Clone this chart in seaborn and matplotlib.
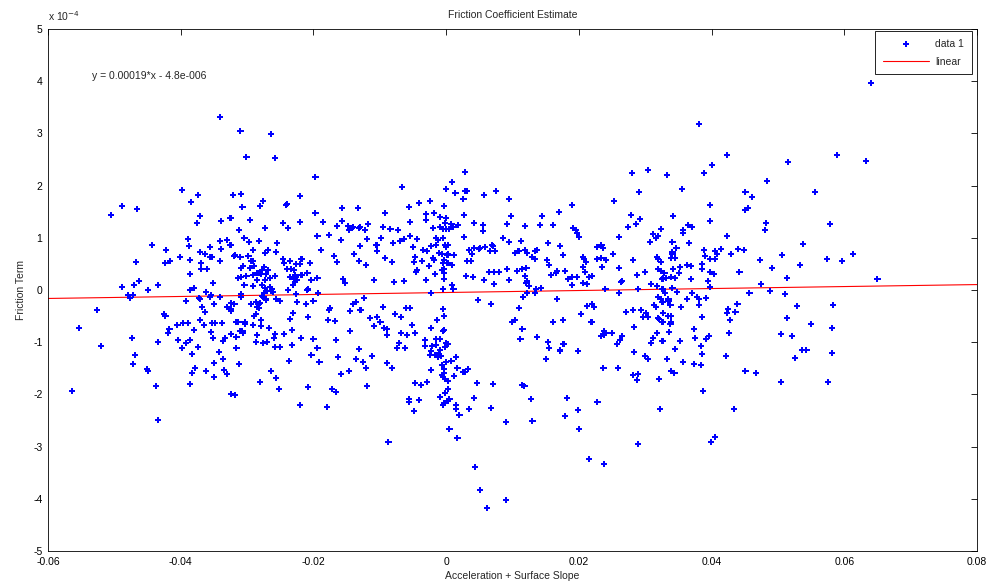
import numpy as np
import pandas as pd
import matplotlib
matplotlib.use("Agg")
import matplotlib.pyplot as plt
import seaborn as sns

# ---- data: x in units of 1e-3, friction term in units of 1e-4 ----
x_a = [-50.5,-48.8,-46.6,-39.8,-38.4,-37.4,-37.1,-37.5,-38.9,-44.3,
       -42.2,-38.7,-37.1,-36.3,-40.1,-41.6,-42.3,-38.6,-36.9,-46.7,
       -36.9,-36.0,-38.6,-48.8,-47.0,-46.3,-44.9,-43.4,-38.6,-38.0,
       -36.2,-47.9,-47.2,-47.6,-37.2,-39.2,-52.6,-36.8,-36.3,-42.5,
       -42.3,-37.1,-55.3,-40.5,-39.6,-38.9,-36.5,-41.7,-41.9,-38.0,
       -47.3,-43.4,-40.4,-39.2,-38.6,-52.0,-39.8,-37.4,-46.9,-38.3,
       -47.2,-45.1,-44.9,-37.8,-38.3,-36.2,-38.6,-43.7,-56.4,-43.4]
y_a = [1.44,1.61,1.55,1.92,1.69,1.82,1.42,1.28,0.98,0.86,
       0.77,0.84,0.73,0.69,0.63,0.56,0.52,0.57,0.52,0.54,
       0.40,0.40,0.31,0.06,0.10,0.17,0.00,0.10,0.00,0.04,
       -0.04,-0.10,-0.10,-0.15,-0.15,-0.21,-0.38,-0.33,-0.42,-0.46,
       -0.50,-0.57,-0.73,-0.67,-0.63,-0.63,-0.67,-0.75,-0.82,-0.77,
       -0.92,-1.00,-0.96,-1.02,-0.96,-1.07,-1.11,-1.09,-1.25,-1.23,
       -1.42,-1.51,-1.55,-1.49,-1.59,-1.55,-1.80,-1.84,-1.93,-2.49]

x_b = [-34.1,-31.0,-26.4,-30.1,-25.8,-19.7,-32.1,-30.9,-27.6,-28.0,
       -30.7,-22.0,-24.0,-24.1,-33.9,-32.5,-29.5,-19.7,-15.7,-13.3,
       -27.3,-31.2,-24.6,-23.8,-22.0,-18.5,-15.7,-16.4,-14.8,-14.2,
       -14.6,-13.1,-30.4,-33.0,-34.1,-29.7,-28.2,-19.4,-17.6,-15.8,
       -32.5,-25.5,-35.6,-33.9,-29.1,-26.8,-27.3,-25.6,-18.8,-13.0,
       -35.6,-35.3,-31.9,-31.8,-31.0,-29.8,-29.4,-29.1,-34.1,-24.6,
       -23.5,-24.4,-21.8,-22.0,-22.6,-20.5,-16.9,-13.9,-16.4,-13.1,
       -30.6,-30.9,-29.5,-28.9,-27.4,-27.7,-26.8,-28.2,-28.5,-27.9,
       -27.1,-29.1,-31.3,-30.9,-30.1,-26.5,-25.8,-27.3,-28.5,-24.0,
       -23.4,-22.9,-22.8,-21.8,-22.6,-23.5,-22.9,-22.5,-22.8,-20.9,
       -19.4,-20.3,-23.1,-20.8,-20.9,-15.5,-15.2,-35.1,-29.1,-30.4,
       -27.7,-26.5,-27.3,-26.2,-27.0,-26.4,-23.8,-34.1,-30.9,-30.9,
       -27.7,-27.4,-22.6,-19.3,-35.6]
y_b = [3.31,3.05,2.99,2.55,2.53,2.16,1.82,1.84,1.70,1.61,
       1.59,1.80,1.65,1.63,1.32,1.38,1.34,1.48,1.57,1.57,
       1.19,1.15,1.28,1.19,1.30,1.30,1.32,1.23,1.23,1.19,
       1.15,1.19,1.00,0.96,0.94,0.92,0.94,1.03,1.05,0.96,
       0.86,0.90,0.82,0.78,0.77,0.77,0.71,0.73,0.77,0.84,
       0.63,0.63,0.65,0.67,0.63,0.65,0.56,0.56,0.56,0.59,
       0.56,0.52,0.59,0.50,0.50,0.52,0.65,0.69,0.54,0.56,
       0.46,0.42,0.42,0.46,0.44,0.38,0.38,0.33,0.33,0.31,
       0.31,0.29,0.23,0.25,0.27,0.23,0.27,0.19,0.19,0.40,
       0.40,0.38,0.29,0.29,0.25,0.25,0.21,0.19,0.15,0.33,
       0.23,0.19,0.10,0.02,0.00,0.21,0.13,0.13,0.08,0.10,
       0.10,0.06,0.04,0.02,-0.02,-0.02,0.00,-0.13,-0.08,-0.13,
       -0.11,-0.06,-0.08,-0.06,-0.13]

x_c = [-35.4,-26.1,-37.1,-27.6,-27.1,-27.1,-25.6,-25.0,-35.0,-33.0,
       -32.4,-31.9,-32.4,-32.4,-29.4,-28.6,-28.2,-28.0,-28.2,-28.5,
       -28.6,-28.9,-22.5,-21.1,-20.0,-23.1,-20.8,-17.5,-17.6,-14.0,
       -13.6,-14.5,-13.0,-35.3,-34.8,-33.8,-31.6,-31.3,-30.3,-30.3,
       -29.1,-27.9,-27.9,-26.7,-23.5,-17.8,-16.7,-35.4,-31.0,-30.7,
       -30.6,-32.4,-31.6,-28.5,-25.8,-25.9,-24.4,-23.2,-21.9,-35.1,
       -33.3,-33.6,-28.6,-27.6,-27.0,-20.0,-16.6,-14.5,-31.6,-25.8,
       -25.0,-23.2,-19.4,-13.1,-34.2,-20.3,-16.3,-13.6,-33.6,-35.0,
       -31.2,-23.7,-19.1,-33.5,-33.0,-35.0,-26.4,-25.6,-28.0,-14.6,
       -15.8,-25.2,-20.8,-17.2,-16.6,-32.4,-31.8,-22.0,-17.9]
y_c = [-0.10,-0.04,-0.17,-0.13,-0.17,-0.19,-0.17,-0.21,-0.27,-0.33,
       -0.25,-0.27,-0.36,-0.40,-0.27,-0.23,-0.27,-0.25,-0.34,-0.33,
       -0.46,-0.50,-0.23,-0.27,-0.21,-0.44,-0.52,-0.34,-0.38,-0.27,
       -0.23,-0.40,-0.38,-0.63,-0.63,-0.63,-0.61,-0.61,-0.61,-0.65,
       -0.67,-0.57,-0.69,-0.73,-0.56,-0.57,-0.59,-0.80,-0.79,-0.79,
       -0.82,-0.84,-0.90,-0.86,-0.84,-0.92,-0.84,-0.77,-0.92,-0.92,
       -0.92,-0.98,-1.00,-1.02,-1.00,-0.94,-0.96,-0.79,-1.11,-1.09,
       -1.09,-1.05,-1.11,-1.13,-1.19,-1.25,-1.28,-1.32,-1.32,-1.40,
       -1.42,-1.36,-1.38,-1.53,-1.61,-1.67,-1.55,-1.69,-1.76,-1.55,
       -1.61,-1.90,-1.86,-1.90,-1.95,-1.99,-2.01,-2.20,-2.24]

x_d = [2.9,0.9,0.0,1.4,2.9,3.2,7.5,5.7,-6.6,2.6,
       9.5,-9.2,-5.6,-4.1,-2.4,-0.3,-3.0,-3.0,-1.8,-0.9,
       0.0,-0.2,2.7,9.8,-5.4,-11.8,-13.0,-14.0,-12.2,-9.5,
       -8.4,-7.2,-2.0,-0.9,-0.5,0.0,0.5,1.1,0.8,1.8,
       4.2,5.6,5.6,9.2,-11.9,-9.8,-8.0,-6.9,-6.3,-5.4,
       -4.4,-5.0,-1.5,-1.2,-0.5,-2.3,-1.5,-0.2,0.3,0.0,
       2.7,3.5,4.2,5.1,5.0,5.9,6.9,7.1,8.6,9.5,
       -10.5,-10.4,-9.2,-12.1,-8.1,-4.7,-4.8,-3.6,-3.5,-2.9,
       -2.0,-1.8,-2.6,-1.1,-0.6,0.2,0.3,-0.3,-0.5,0.2,
       -0.3,-0.3,1.2,0.9,-0.6,3.9,3.8,3.2,6.6,7.4,
       -4.4,-4.5,-1.7,3.0,4.1,6.5,7.2,8.0,9.2,-10.9,
       -7.8,-6.3,-3.0,-0.3,-0.5,0.9,1.1,5.7,7.2,9.5,
       -2.3,-12.4,4.8]
y_d = [2.26,2.07,1.94,1.86,1.90,1.90,1.90,1.82,1.97,1.74,
       1.74,1.48,1.59,1.67,1.70,1.61,1.46,1.34,1.48,1.40,
       1.38,1.28,1.44,1.42,1.30,1.26,1.21,1.21,1.15,1.21,
       1.17,1.15,1.19,1.21,1.17,1.17,1.17,1.21,1.26,1.25,
       1.28,1.25,1.13,1.26,0.98,1.00,0.90,0.94,0.98,1.03,
       0.98,0.82,1.00,0.96,1.00,0.84,0.86,0.86,0.86,0.82,
       1.02,0.77,0.80,0.80,0.79,0.82,0.86,0.84,1.00,0.92,
       0.86,0.75,0.61,0.48,0.54,0.63,0.54,0.56,0.77,0.75,
       0.61,0.57,0.46,0.71,0.69,0.67,0.69,0.57,0.52,0.52,
       0.40,0.33,0.67,0.48,0.38,0.69,0.56,0.56,0.75,0.75,
       0.38,0.34,0.31,0.27,0.25,0.34,0.34,0.34,0.40,0.19,
       0.15,0.17,0.19,0.21,0.02,0.10,0.02,0.19,0.11,0.19,
       -0.06,-0.15,-0.19]

x_e = [-12.8,-9.5,-6.0,-5.4,-0.5,-0.3,-11.5,-10.4,-9.9,-7.7,
       -6.8,-1.4,9.9,-10.9,-9.3,-8.9,-8.9,-5.1,-2.3,-0.3,
       -0.5,-6.8,-5.9,-4.7,-1.5,-0.9,-3.2,-3.2,0.0,0.3,
       -0.2,-2.1,-1.5,-0.9,-7.1,-7.4,-6.2,-2.3,-2.4,-1.7,
       -1.4,-1.1,-1.2,-0.8,-12.5,-12.1,-11.2,-8.9,-8.1,0.0,
       0.8,1.5,-0.6,-0.3,-0.6,-0.2,-0.5,-0.3,-2.3,1.7,
       2.6,2.9,3.3,1.2,0.3,-11.9,-4.7,-3.8,-2.9,0.3,
       4.7,7.1,-0.9,-0.2,0.5,0.2,-0.5,-0.3,-5.6,-5.6,
       -4.1,-4.8,1.5,1.5,2.0,3.5,4.2,6.8,9.0,0.5,
       1.7,-8.7,4.4,5.1,6.2,9.0,6.8]
y_e = [-0.38,-0.33,-0.34,-0.34,-0.36,-0.50,-0.54,-0.52,-0.61,-0.46,
       -0.52,-0.57,-0.61,-0.69,-0.73,-0.75,-0.86,-0.67,-0.73,-0.77,
       -0.79,-0.82,-0.86,-0.82,-0.94,-0.94,-0.96,-1.07,-1.02,-1.03,
       -1.09,-1.07,-1.05,-1.15,-1.02,-1.11,-1.11,-1.17,-1.25,-1.25,
       -1.25,-1.23,-1.28,-1.26,-1.38,-1.49,-1.26,-1.40,-1.49,-1.38,
       -1.36,-1.28,-1.44,-1.51,-1.63,-1.71,-1.67,-1.59,-1.53,-1.49,
       -1.57,-1.57,-1.51,-1.65,-1.74,-1.84,-1.78,-1.82,-1.76,-1.90,
       -1.78,-1.80,-2.05,-1.97,-2.09,-2.13,-2.20,-2.17,-2.09,-2.15,
       -2.11,-2.32,-2.20,-2.28,-2.40,-2.28,-2.07,-2.26,-2.53,-2.66,
       -2.84,-2.91,-3.39,-3.83,-4.18,-4.02,-0.27]

x_f = [28.0,30.4,29.1,25.3,19.0,14.5,17.0,27.9,29.2,11.9,
       14.2,16.1,19.1,19.6,19.7,20.0,27.4,28.6,32.4,26.1,
       31.2,31.9,31.6,11.3,15.4,17.2,30.7,10.4,10.9,11.9,
       12.2,13.4,13.7,13.0,13.4,17.6,22.8,23.4,23.6,25.2,
       20.6,20.8,21.1,22.8,23.4,24.1,28.2,31.8,31.9,32.4,
       15.2,15.5,10.7,11.5,12.1,11.9,17.9,20.6,20.9,23.5,
       26.1,30.0,31.9,32.4,32.9,16.6,16.7,15.8,12.2,12.1,
       12.5,18.4,19.0,19.7,20.6,21.2,21.5,22.0,26.5,26.4,
       28.8,30.9,31.8,32.6,19.0,14.3,13.6,13.4,12.2,11.6,
       16.7,24.0,26.1,28.9,31.9,32.4]
y_f = [2.24,2.30,1.88,1.70,1.63,1.42,1.49,1.44,1.36,1.23,
       1.25,1.25,1.19,1.15,1.09,1.02,1.21,1.26,1.17,1.02,
       1.07,1.03,1.00,0.94,0.90,0.84,0.92,0.71,0.75,0.77,
       0.71,0.75,0.77,0.63,0.59,0.67,0.82,0.86,0.80,0.69,
       0.63,0.59,0.54,0.59,0.61,0.57,0.57,0.63,0.59,0.54,
       0.57,0.48,0.36,0.40,0.42,0.27,0.36,0.44,0.34,0.44,
       0.42,0.34,0.40,0.36,0.33,0.33,0.36,0.29,0.17,0.13,
       0.08,0.21,0.25,0.25,0.13,0.11,0.25,0.27,0.17,0.15,
       0.29,0.11,0.08,0.21,0.10,0.04,0.02,-0.06,-0.06,-0.13,
       -0.17,0.02,-0.06,0.02,-0.13,-0.17]

x_g = [11.0,21.2,22.0,22.3,20.3,27.1,28.2,29.4,31.3,31.6,
       32.6,32.7,30.1,30.4,29.7,10.4,16.1,17.6,21.9,31.9,
       32.6,11.5,28.3,11.2,13.7,23.8,24.0,23.4,23.8,25.0,
       26.5,26.2,25.8,31.8,32.6,30.9,31.2,15.4,15.5,17.6,
       17.8,17.2,17.2,19.9,28.3,30.0,30.4,15.1,23.7,25.9,
       28.2,28.9,28.8,32.1,11.5,11.8,12.8,18.2,22.8,19.9,
       32.2,17.9,13.0,20.0,28.9,21.5,23.8]
y_g = [-0.34,-0.31,-0.27,-0.33,-0.46,-0.42,-0.38,-0.38,-0.29,-0.33,
       -0.23,-0.44,-0.44,-0.52,-0.52,-0.57,-0.61,-0.57,-0.61,-0.54,
       -0.61,-0.75,-0.71,-0.94,-0.90,-0.79,-0.82,-0.88,-0.86,-0.82,
       -0.88,-0.96,-1.03,-0.82,-0.98,-1.02,-0.92,-1.00,-1.11,-1.03,
       -1.03,-1.15,-1.17,-1.17,-1.19,-1.26,-1.32,-1.32,-1.49,-1.49,
       -1.63,-1.61,-1.72,-1.71,-1.82,-1.84,-2.09,-2.07,-2.15,-2.30,
       -2.28,-2.41,-2.51,-2.66,-2.95,-3.24,-3.33]

x_h = [38.1,42.3,40.1,38.9,33.3,51.5,35.6,48.4,45.1,46.1,
       55.6,39.8,45.5,45.1,34.2,39.8,48.2,48.1,36.5,37.1,
       35.7,35.7,42.3,34.1,36.6,34.7,34.1,34.1,33.9,34.5,
       38.9,39.0,40.5,40.8,40.5,41.4,39.8,42.9,44.0,44.9,
       47.3,50.6,53.8,53.3,49.1,44.2,51.4,32.7,33.2,33.9,
       34.5,35.1,35.3,34.2,36.3,36.9,38.6,38.6,36.9,39.8,
       40.4,39.5,39.8,47.5,32.6,34.1,34.8,33.0,33.5,37.1,
       36.3,37.8,38.1,39.2,45.7,48.8,51.1]
y_h = [3.18,2.59,2.40,2.24,2.20,2.45,1.94,2.09,1.88,1.78,
       1.88,1.63,1.57,1.53,1.42,1.32,1.28,1.15,1.25,1.21,
       1.15,1.09,1.03,0.92,0.90,0.80,0.73,0.69,0.61,0.61,
       0.77,0.65,0.75,0.69,0.59,0.79,0.59,0.69,0.79,0.77,
       0.57,0.67,0.88,0.48,0.42,0.34,0.23,0.23,0.23,0.25,
       0.23,0.33,0.44,0.40,0.48,0.46,0.50,0.40,0.21,0.34,
       0.31,0.17,0.06,0.11,0.02,0.04,-0.04,-0.06,-0.17,-0.06,
       -0.17,-0.13,-0.17,-0.15,-0.06,-0.02,-0.08]

x_i = [33.5,33.8,35.4,38.1,42.5,42.3,43.6,43.9,52.9,33.5,
       33.9,32.1,33.9,33.8,38.6,42.8,51.4,55.0,37.4,37.5,
       33.6,42.6,50.5,52.1,35.3,39.6,39.2,38.4,38.6,34.5,
       53.6,54.3,33.3,35.7,37.4,38.4,42.2,52.6,33.9,34.4,
       45.1,46.7,50.5,38.7,43.4,40.5,39.9,
       64.0,58.9,63.3,57.9,57.4,59.7,61.3,65.0,58.3,58.2,
       58.2,57.6]
y_i = [-0.21,-0.29,-0.33,-0.29,-0.36,-0.44,-0.42,-0.27,-0.31,-0.50,
       -0.50,-0.56,-0.61,-0.65,-0.52,-0.57,-0.54,-0.65,-0.75,-0.92,
       -0.80,-0.82,-0.84,-0.88,-0.98,-0.88,-0.94,-1.07,-1.23,-1.13,
       -1.15,-1.15,-1.32,-1.38,-1.42,-1.44,-1.26,-1.30,-1.55,-1.59,
       -1.55,-1.59,-1.76,-1.93,-2.28,-2.82,-2.91,
       3.97,2.59,2.47,1.26,0.59,0.56,0.69,0.21,-0.29,-0.73,
       -1.21,-1.76]

fit_slope = 0.00019
fit_intercept = -4.8e-6
x_range = [-0.06, 0.08]
x_ticks = [-0.06, -0.04, -0.02, 0, 0.02, 0.04, 0.06, 0.08]
x_tick_labels = ["-0.06", "-0.04", "-0.02", "0", "0.02", "0.04", "0.06", "0.08"]
y_ticks = [-5, -4, -3, -2, -1, 0, 1, 2, 3, 4, 5]

# ---- assemble ----
xs_milli = x_a + x_b + x_c + x_d + x_e + x_f + x_g + x_h + x_i
ys_e4 = y_a + y_b + y_c + y_d + y_e + y_f + y_g + y_h + y_i
df = pd.DataFrame({"x": np.array(xs_milli) * 1e-3, "y": ys_e4})

line_x = np.linspace(x_range[0], x_range[1], 200)
line_df = pd.DataFrame({"x": line_x, "y": (fit_slope * line_x + fit_intercept) / 1e-4})

sns.set_style("white")
plt.rcParams["font.family"] = ["Liberation Sans", "DejaVu Sans"]
plt.rcParams["font.size"] = 7.5

fig = plt.figure(figsize=(9.92, 5.88), dpi=100)
ax = fig.add_axes([48 / 992, 1 - 551 / 588, 929 / 992, 522 / 588])

sns.scatterplot(data=df, x="x", y="y", ax=ax, marker="P", s=20, color="#0000ff",
                edgecolor="none", linewidth=0, label="data 1", zorder=3)
sns.lineplot(data=line_df, x="x", y="y", ax=ax, color="#ff0000", linewidth=0.8,
             label="linear", zorder=2)

ax.set_xlim(x_range)
ax.set_ylim(-5, 5)
ax.set_xticks(x_ticks)
ax.set_xticklabels(x_tick_labels)
ax.set_yticks(y_ticks)
ax.set_yticklabels([str(t) for t in y_ticks])
ax.tick_params(direction="in", length=4, width=0.6, top=True, right=True,
               labelsize=7.5, colors="black", pad=4)
for sp in ax.spines.values():
    sp.set_visible(True)
    sp.set_color("black")
    sp.set_linewidth(0.6)

ax.set_title("Friction Coefficient Estimate", fontsize=7.5, pad=8)
ax.set_xlabel("Acceleration + Surface Slope", fontsize=7.5, labelpad=3)
ax.set_ylabel("Friction Term", fontsize=7.5, labelpad=5)
ax.text(0.0, 1.012, "x 10$^{-4}$", transform=ax.transAxes, fontsize=7.5,
        ha="left", va="bottom")
ax.text(-0.0534, 4.1, "y = 0.00019*x - 4.8e-006", fontsize=7.5, ha="left", va="center")

leg = ax.legend(loc="upper right", bbox_to_anchor=(972 / 992, 1 - 31 / 588),
                bbox_transform=fig.transFigure, frameon=True, fancybox=False,
                edgecolor="black", framealpha=1, fontsize=7.5, borderaxespad=0.0,
                handlelength=4.4, handletextpad=0.6, labelspacing=0.75,
                borderpad=0.75, markerscale=1.0)
leg.get_frame().set_linewidth(0.6)

fig.savefig("out.png", dpi=100, facecolor="white")
